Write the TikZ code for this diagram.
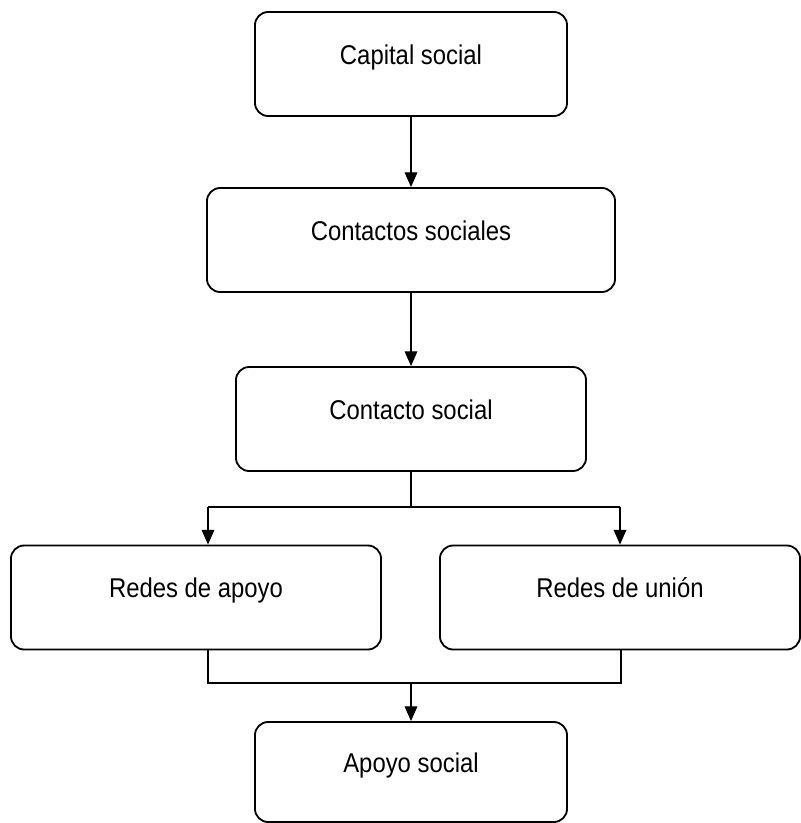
\documentclass[tikz,border=0pt]{standalone}
\usepackage{fontspec}
\setmainfont{Liberation Sans}[FakeStretch=0.88]
\usetikzlibrary{arrows.meta,calc}

\tikzset{
	caja/.style={draw,line width=1.3pt,rounded corners=0.33cm,inner sep=0pt,
		minimum width=#1,text height=1.3cm,text depth=1.3cm,
		font=\fontsize{19.3}{22}\selectfont},
	flecha/.style={line width=0.9pt,-{Triangle[length=10.5pt,width=9pt]}},
	linea/.style={line width=0.9pt}
}

\begin{document}
\begin{tikzpicture}[x=0.025cm,y=-0.025cm]
		\useasboundingbox (0,0) rectangle (801,823);
		
		% Boxes
		\node[caja=7.8cm] (capital) at (411,64) {Capital social};
		\node[caja=10.2cm] (contactos) at (411,240) {Contactos sociales};
		\node[caja=8.75cm] (contacto) at (411,419) {Contacto social};
		\node[caja=9.25cm] (redapoyo) at (196,597.5) {Redes de apoyo};
		\node[caja=9cm] (redunion) at (620,597.5) {Redes de unión};
		\node[caja=7.8cm,text height=1.25cm,text depth=1.25cm] (apoyo) at (411,772) {Apoyo social};
		
		% Straight arrows
		\draw[flecha] (capital) -- (contactos);
		\draw[flecha] (contactos) -- (contacto);
		
		% Split below Contacto social
		\coordinate (splitL) at (208,507);
		\coordinate (splitR) at (620,507);
		\draw[linea] (contacto.south) -- (contacto.south |- splitL);
		\draw[linea] (splitL) -- (splitR);
		\draw[flecha] (splitL) -- (splitL |- redapoyo.north);
		\draw[flecha] (splitR) -- (splitR |- redunion.north);
		
		% Join above Apoyo social
		\coordinate (joinL) at (208,683);
		\coordinate (joinR) at (621,683);
		\draw[linea] (joinL |- redapoyo.south) -- (joinL) -- (joinR) -- (joinR |- redunion.south);
		\draw[flecha] (apoyo.north |- joinL) -- (apoyo.north);
	\end{tikzpicture}
\end{document}
